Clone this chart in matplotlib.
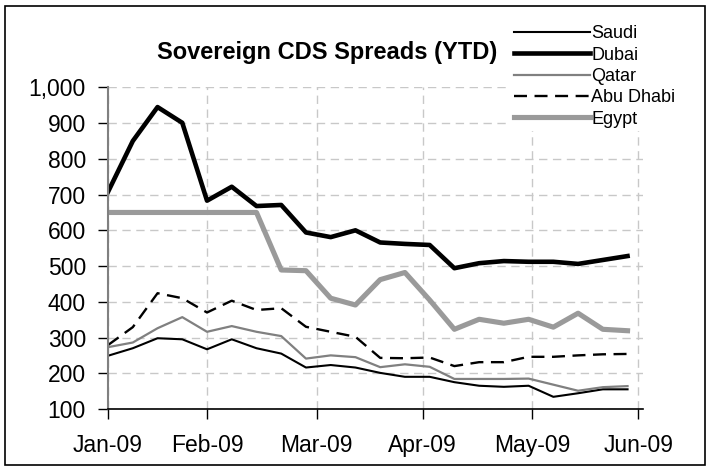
import matplotlib
matplotlib.use("Agg")
import matplotlib.pyplot as plt
from matplotlib.patches import Rectangle
from matplotlib.ticker import FuncFormatter

plt.rcParams['font.family'] = ['Liberation Sans', 'DejaVu Sans']

# weekly observations, x in days since first point
days = [7 * i for i in range(22)]
tick_days = [0, 28, 59, 89, 120, 150]
tick_labels = ["Jan-09", "Feb-09", "Mar-09", "Apr-09", "May-09", "Jun-09"]

saudi = [249, 270, 298, 295, 267, 295, 270, 255, 216, 223, 216, 201,
         190, 190, 175, 165, 162, 165, 134, 144, 155, 155]
dubai = [708, 850, 945, 901, 683, 722, 668, 671, 594, 581, 600, 566,
         562, 559, 494, 508, 514, 512, 512, 506, 517, 528]
qatar = [273, 286, 326, 357, 316, 332, 316, 304, 241, 250, 245, 217,
         225, 218, 184, 184, 184, 185, 168, 151, 161, 164]
abu_dhabi = [279, 329, 424, 410, 370, 403, 377, 382, 330, 316, 302, 243,
             242, 244, 220, 231, 231, 246, 246, 250, 253, 254]
egypt = [650, 650, 650, 650, 650, 650, 650, 489, 487, 410, 391, 462,
         482, 405, 323, 351, 340, 351, 329, 368, 323, 319]

fig = plt.figure(figsize=(7.11, 4.69), dpi=100)
ax = fig.add_axes([0.152, 0.128, 0.752, 0.6856])

ax.plot(days, saudi, color="black", lw=1.5, label="Saudi")
ax.plot(days, dubai, color="black", lw=3.3, label="Dubai")
ax.plot(days, qatar, color="#808080", lw=1.6, label="Qatar")
ax.plot(days, abu_dhabi, color="black", lw=1.7, dashes=(5.5, 3.2), label="Abu Dhabi")
ax.plot(days, egypt, color="#9a9a9a", lw=3.7, label="Egypt")

ax.set_xlim(0, 151.3)
ax.set_ylim(100, 1000)
ax.set_xticks(tick_days)
ax.set_xticklabels(tick_labels)
ax.set_yticks(range(100, 1001, 100))
ax.yaxis.set_major_formatter(FuncFormatter(lambda v, p: f"{int(v):,}"))
ax.tick_params(axis="both", direction="out", length=7, width=1, labelsize=16.5)
ax.tick_params(axis="y", pad=9, color="black")
ax.tick_params(axis="x", pad=11)

ax.grid(True, color="#c8c8c8", linestyle=(0, (6, 4)), lw=1)
for s in ["top", "right"]:
    ax.spines[s].set_visible(False)
ax.spines["left"].set_color("#808080")
ax.spines["left"].set_linewidth(1.5)
ax.spines["bottom"].set_color("black")
ax.spines["bottom"].set_linewidth(1.2)

fig.text(0.46, 0.888, "Sovereign CDS Spreads (YTD)", fontsize=17, fontweight="bold",
         ha="center", va="center", zorder=5)

leg = ax.legend(loc="upper left", bbox_to_anchor=(0.735, 1.232), fontsize=13,
                frameon=True, handlelength=4.25, handletextpad=0.05,
                labelspacing=0.24, borderpad=0.2)
leg.get_frame().set_edgecolor("none")
leg.get_frame().set_facecolor("white")
leg.get_frame().set_alpha(1)

fig.patches.append(Rectangle((0.007, 0.008), 0.984, 0.979, transform=fig.transFigure,
                             fill=False, edgecolor="black", lw=1.2))

fig.savefig("out.png", dpi=100)
